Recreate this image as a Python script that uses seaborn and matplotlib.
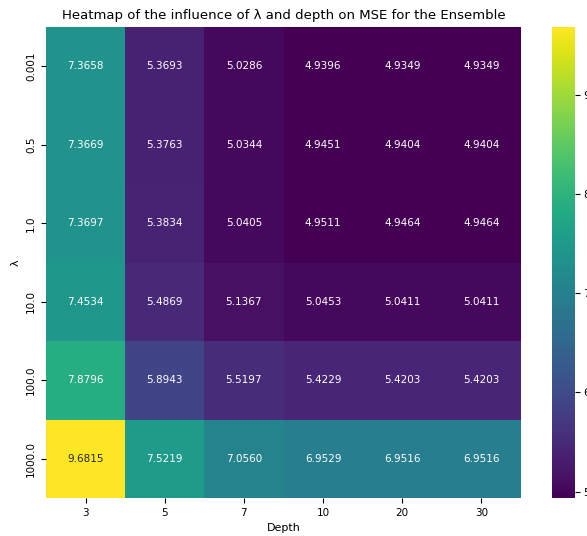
import matplotlib
matplotlib.use("Agg")
import matplotlib.pyplot as plt
import seaborn as sns
import pandas as pd

lambdas = ["0.001", "0.5", "1.0", "10.0", "100.0", "1000.0"]
depths = ["3", "5", "7", "10", "20", "30"]

mse_l0001 = [7.3658, 5.3693, 5.0286, 4.9396, 4.9349, 4.9349]
mse_l05 = [7.3669, 5.3763, 5.0344, 4.9451, 4.9404, 4.9404]
mse_l1 = [7.3697, 5.3834, 5.0405, 4.9511, 4.9464, 4.9464]
mse_l10 = [7.4534, 5.4869, 5.1367, 5.0453, 5.0411, 5.0411]
mse_l100 = [7.8796, 5.8943, 5.5197, 5.4229, 5.4203, 5.4203]
mse_l1000 = [9.6815, 7.5219, 7.0560, 6.9529, 6.9516, 6.9516]

table = pd.DataFrame(
    [mse_l0001, mse_l05, mse_l1, mse_l10, mse_l100, mse_l1000],
    index=lambdas, columns=depths,
)

W, H = 587, 536
fig = plt.figure(figsize=(W / 100, H / 100), dpi=100)
ax = fig.add_axes([46 / W, (H - 498) / H, (521 - 46) / W, (498 - 27) / H])
cax = fig.add_axes([552 / W, (H - 498) / H, (575 - 552) / W, (498 - 27) / H])

sns.heatmap(table, ax=ax, cbar_ax=cax, cmap="viridis", annot=True, fmt=".4f",
            annot_kws={"fontsize": 7.5})

ax.set_title("Heatmap of the influence of λ and depth on MSE for the Ensemble",
             fontsize=9.5, pad=6)
ax.set_xlabel("Depth", fontsize=8)
ax.set_ylabel("λ", fontsize=8)
ax.tick_params(axis="both", labelsize=7.5)
plt.setp(ax.get_yticklabels(), rotation=90, va="center")
cax.set_yticks([5, 6, 7, 8, 9])
cax.tick_params(labelsize=8, pad=2.5)

fig.savefig("out.png", dpi=100)
